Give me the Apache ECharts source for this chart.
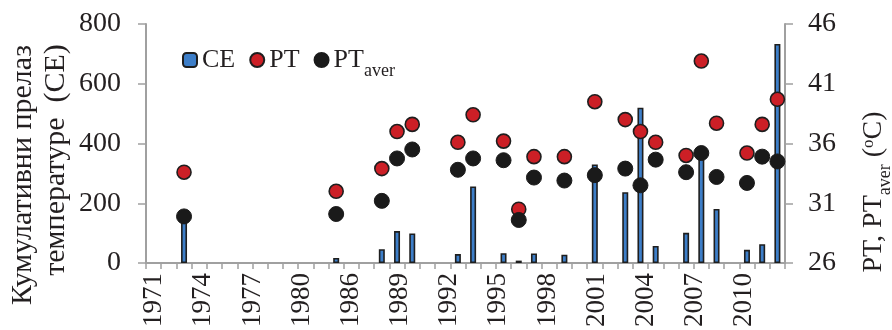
<!DOCTYPE html>
<html>
<head>
<meta charset="utf-8">
<script src="https://cdn.jsdelivr.net/npm/echarts@6/dist/echarts.min.js"></script>
<style>
html,body{margin:0;padding:0;background:#fff;}
#c{width:892px;height:330px;}
</style>
</head>
<body>
<div id="c"></div>
<script>
// Data-axis categories (one per tick interval)
const years = [1971,1972,1973,1974,1975,1976,1977,1978,1979,1980,1981,1982,1983,1984,1985,1986,1987,1988,1989,1990,1991,1992,1993,1994,1995,1996,1997,1998,1999,2000,2001,2002,2003,2004,2005,2006,2007,2008,2009,2010,2011,2012];
// Label-axis categories (as printed under the axis)
const labelYears = ['1971','1972','1973','1974','1975','1976','1977','1978','1979','1980','1984','1985','1986','1987','1988','1989','1990','1991','1992','1993','1994','1995','1996','1997','1998','1999','2000','2001','2002','2003','2004','2005','2006','2007','2008','2009','2010','2011','2012'];
const ceValues = [null,null,155,null,null,null,null,null,null,null,null,null,17,null,null,46,107,99,null,null,30,256,null,33,8,32,null,28,null,330,null,237,520,57,null,101,365,181,null,44,63,733];
const ptValues = [null,null,33.6,null,null,null,null,null,null,null,null,null,32.0,null,null,33.9,37.0,37.6,null,null,36.1,38.4,null,36.2,30.5,34.9,null,34.9,null,39.5,null,38.0,37.0,36.1,null,35.0,42.9,37.7,null,35.2,37.6,39.7];
const ptAverValues = [null,null,29.9,null,null,null,null,null,null,null,null,null,30.1,null,null,31.2,34.75,35.5,null,null,33.8,34.75,null,34.6,29.6,33.15,null,32.9,null,33.35,null,33.9,32.5,34.65,null,33.6,35.2,33.2,null,32.7,34.9,34.5];
const leftTicks = {min:0, max:800, interval:200};
const rightTicks = {min:26, max:46, interval:5};

const FONT = 'Liberation Serif';
const TXT = '#231f20';
const AX = '#a0a0a0';

const chart = echarts.init(document.getElementById('c'));
chart.setOption({
  backgroundColor:'#ffffff',
  animation:false,
  textStyle:{fontFamily:FONT},
  grid:{left:146,right:107,top:24,bottom:64,containLabel:false},
  legend:{
    left:177, top:42,
    itemWidth:14, itemHeight:14, itemGap:14,
    data:['CE','PT','PTaver'],
    formatter:function(n){ return n==='PTaver' ? '{m|PT}{s|aver}' : '{m|'+n+'}'; },
    textStyle:{
      fontFamily:FONT, color:TXT,
      rich:{
        m:{fontFamily:FONT,fontSize:26,color:TXT,lineHeight:40},
        s:{fontFamily:FONT,fontSize:18,color:TXT,verticalAlign:'bottom',lineHeight:18}
      }
    }
  },
  xAxis:[
    {type:'category', data:years, boundaryGap:true, position:'bottom',
     axisLine:{show:true,lineStyle:{color:AX,width:2}},
     axisTick:{show:true,interval:0,length:6,lineStyle:{color:AX,width:1.5}},
     axisLabel:{show:false}, splitLine:{show:false}},
    {type:'category', data:labelYears, boundaryGap:true, position:'bottom',
     axisLine:{show:false}, axisTick:{show:false}, splitLine:{show:false},
     axisLabel:{show:true, interval:2, rotate:90, margin:10, fontFamily:FONT, fontSize:27, color:TXT}}
  ],
  yAxis:[
    {type:'value', min:leftTicks.min, max:leftTicks.max, interval:leftTicks.interval, position:'left',
     axisLine:{show:true,lineStyle:{color:AX,width:2}},
     axisTick:{show:true,length:8,lineStyle:{color:AX,width:1.5}},
     splitLine:{show:false},
     axisLabel:{margin:25,fontFamily:FONT,fontSize:28,color:TXT}},
    {type:'value', min:rightTicks.min, max:rightTicks.max, interval:rightTicks.interval, position:'right',
     axisLine:{show:true,lineStyle:{color:AX,width:2}},
     axisTick:{show:true,length:8,lineStyle:{color:AX,width:1.5}},
     splitLine:{show:false},
     axisLabel:{margin:23,fontFamily:FONT,fontSize:28,color:TXT}}
  ],
  series:[
    {name:'CE', type:'bar', xAxisIndex:0, yAxisIndex:0, data:ceValues, barWidth:6, z:2,
     itemStyle:{color:'#3d7ec8',borderColor:'#1e1e1e',borderWidth:1.6}},
    {name:'PT', type:'scatter', xAxisIndex:0, yAxisIndex:1, data:ptValues, symbol:'circle', symbolSize:14, z:3,
     itemStyle:{color:'#cc1f26',borderColor:'#1e1e1e',borderWidth:1.6,opacity:1}},
    {name:'PTaver', type:'scatter', xAxisIndex:0, yAxisIndex:1, data:ptAverValues, symbol:'circle', symbolSize:15, z:4,
     itemStyle:{color:'#1a1a1a',borderColor:'#1a1a1a',borderWidth:1,opacity:1}}
  ],
  graphic:[
    {type:'text', x:23, y:175, rotation:Math.PI/2,
     style:{text:'Кумулативни прелаз', fontFamily:FONT, fontSize:30, fill:TXT, align:'center', verticalAlign:'middle'}},
    {type:'text', x:56, y:160, rotation:Math.PI/2,
     style:{text:'температуре  (CE)', fontFamily:FONT, fontSize:30, fill:TXT, align:'center', verticalAlign:'middle'}},
    {type:'text', x:874, y:192, rotation:Math.PI/2,
     style:{text:'{m|PT, PT}{s|aver}{m| (}{o|o}{m|C)}', fontFamily:FONT, fontSize:28, fill:TXT, align:'center', verticalAlign:'middle',
       rich:{
         m:{fontFamily:FONT,fontSize:28,fill:TXT,lineHeight:40},
         s:{fontFamily:FONT,fontSize:18,fill:TXT,verticalAlign:'bottom',lineHeight:18},
         o:{fontFamily:FONT,fontSize:17,fill:TXT,verticalAlign:'top',lineHeight:17,padding:[6,0,0,0]}
       }}}
  ]
});
</script>
</body>
</html>
